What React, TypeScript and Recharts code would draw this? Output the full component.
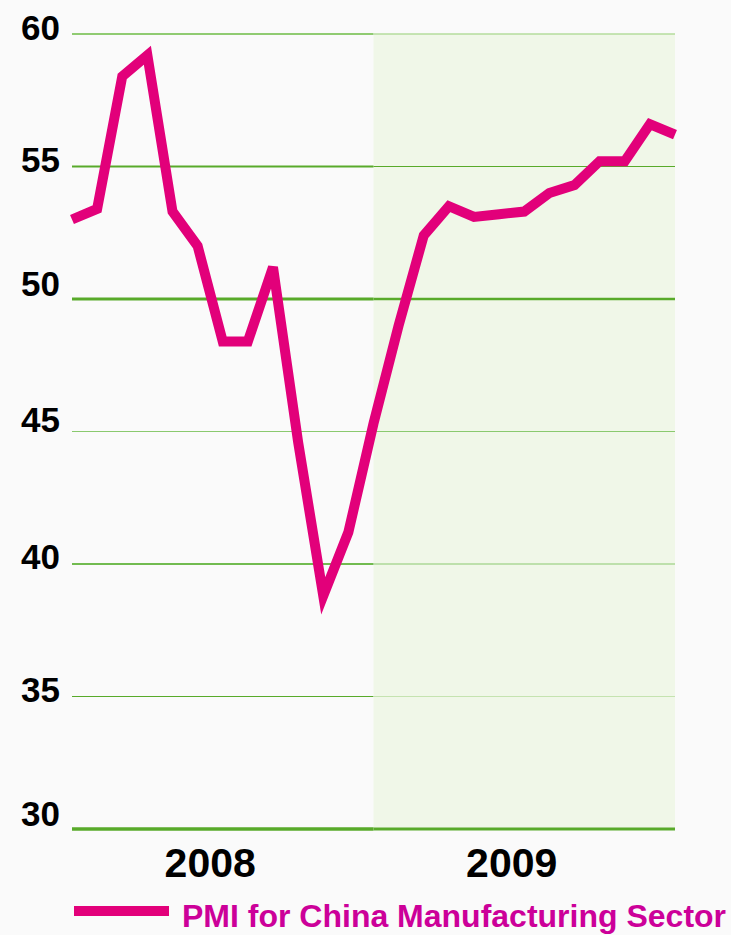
import { LineChart, Line, XAxis, YAxis, ReferenceLine, ReferenceArea } from 'recharts'

// PMI readings, one per month
const pmi2008 = [53.0, 53.4, 58.4, 59.2, 53.3, 52.0, 48.4, 48.4, 51.2, 44.6, 38.8, 41.2]
const pmi2009 = [45.3, 49.0, 52.4, 53.5, 53.1, 53.2, 53.3, 54.0, 54.3, 55.2, 55.2, 56.6]
const pmiEdge = [56.2] // line runs off at the right edge
const yearLabels = ['2008', '2009']
const yTicks = [30, 35, 40, 45, 50, 55, 60]
const seriesName = 'PMI for China Manufacturing Sector'

const data = [...pmi2008, ...pmi2009, ...pmiEdge].map((v, i) => ({ idx: i, pmi: v }))
const yearTicks = yearLabels.map((_, i) => i * 12 + 5.5)
const split = pmi2008.length
const last = data.length - 1

const FONT = '"Liberation Sans", Arial, Helvetica, sans-serif'
const LINE_COLOR = '#e2007a'

// gridline look per value: plain part, then the part inside the 2009 shade
const gridStyle: Record<number, { stroke: string; width: number }> = {
  60: { stroke: '#6cbb44', width: 1.5 },
  55: { stroke: '#58aa2a', width: 2 },
  50: { stroke: '#58aa2a', width: 3 },
  45: { stroke: '#8ac96e', width: 1 },
  40: { stroke: '#72bb50', width: 2 },
  35: { stroke: '#58aa2a', width: 1 },
  30: { stroke: '#58aa2a', width: 3.5 },
}
const shadedGridStyle: Record<number, { stroke: string; width: number }> = {
  60: { stroke: '#b5dd9c', width: 1.5 },
  55: { stroke: '#58aa2a', width: 1.2 },
  50: { stroke: '#58aa2a', width: 2.5 },
  45: { stroke: '#8ac96e', width: 1 },
  40: { stroke: '#8ac96e', width: 1 },
  35: { stroke: '#c5e3b0', width: 1 },
  30: { stroke: '#58aa2a', width: 3 },
}
// labels sit a bit above their lines, unevenly
const labelNudge: Record<number, number> = { 60: -7, 55: -7, 50: -16, 45: -12, 40: -8, 35: -7, 30: -16 }

const YTick = ({ y, payload }: any) => (
  <text
    x={60}
    y={y + (labelNudge[payload.value] ?? -8)}
    dy="0.36em"
    textAnchor="end"
    fontFamily={FONT}
    fontWeight="bold"
    fontSize={35}
    fill="#000"
  >
    {payload.value}
  </text>
)

const XTick = ({ x, y, payload }: any) => (
  <text x={x} y={y} dy={40} textAnchor="middle" fontFamily={FONT} fontWeight="bold" fontSize={41} fill="#000">
    {yearLabels[Math.round((payload.value - 5.5) / 12)]}
  </text>
)

export default function App() {
  return (
    <div style={{ position: 'relative', width: 731, height: 935, background: '#fafafa' }}>
      <style>{`body{margin:0;background:#fafafa}`}</style>
      <LineChart width={731} height={935} data={data} margin={{ top: 34, right: 56, bottom: 0, left: 0 }}>
        <XAxis
          dataKey="idx"
          type="number"
          domain={[0, last]}
          ticks={yearTicks}
          tick={<XTick />}
          axisLine={false}
          tickLine={false}
          height={106}
        />
        <YAxis
          domain={[30, 60]}
          ticks={yTicks}
          tick={<YTick />}
          axisLine={false}
          tickLine={false}
          width={72}
          interval={0}
        />
        <ReferenceArea x1={split} x2={last} y1={30} y2={60} fill="#f0f7e8" fillOpacity={1} stroke="none" />
        {yTicks.map((t) => (
          <ReferenceLine
            key={`a${t}`}
            segment={[{ x: 0, y: t }, { x: split, y: t }]}
            stroke={gridStyle[t].stroke}
            strokeWidth={gridStyle[t].width}
          />
        ))}
        {yTicks.map((t) => (
          <ReferenceLine
            key={`b${t}`}
            segment={[{ x: split, y: t }, { x: last, y: t }]}
            stroke={shadedGridStyle[t].stroke}
            strokeWidth={shadedGridStyle[t].width}
          />
        ))}
        <Line
          type="linear"
          dataKey="pmi"
          name={seriesName}
          stroke={LINE_COLOR}
          strokeWidth={10}
          dot={false}
          activeDot={false}
          isAnimationActive={false}
        />
      </LineChart>
      <div
        style={{
          position: 'absolute',
          left: 74,
          top: 900,
          display: 'flex',
          alignItems: 'flex-start',
          fontFamily: FONT,
          fontWeight: 700,
          fontSize: 32,
          lineHeight: '32px',
          color: '#cc0099',
          whiteSpace: 'nowrap',
        }}
      >
        <span style={{ display: 'inline-block', width: 95, height: 10, marginTop: 6, marginRight: 13, background: LINE_COLOR }} />
        {seriesName}
      </div>
    </div>
  )
}
